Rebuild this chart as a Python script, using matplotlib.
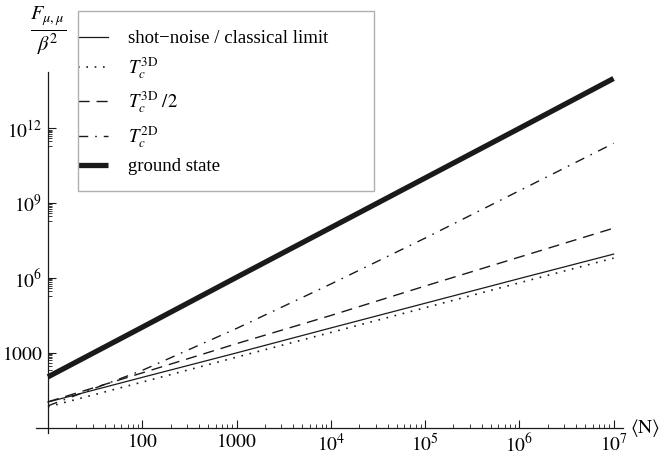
import numpy as np
import matplotlib
matplotlib.use("Agg")
import matplotlib.pyplot as plt
from matplotlib.patches import Rectangle
from matplotlib.ticker import FixedLocator, FixedFormatter, NullFormatter

plt.rcParams['font.family'] = ['Liberation Serif', 'DejaVu Serif']
plt.rcParams['mathtext.fontset'] = 'stix'

# log10 of <N> and log10 of F/beta^2 at each decade
log_n = [1, 2, 3, 4, 5, 6, 7]
log_shot = [1.03, 2.02, 3.0, 4.0, 4.99, 5.98, 6.96]
log_tc3d = [0.84, 1.83, 2.83, 3.82, 4.81, 5.81, 6.8]
log_tc3d_half = [1.04, 2.2, 3.37, 4.5, 5.68, 6.84, 8.0]
log_tc2d = [0.88, 2.3, 3.98, 5.76, 7.6, 9.5, 11.4]
log_ground = [2.04, 4.03, 6.03, 8.02, 10.01, 12.0, 14.0]

labels = ['shot\u2212noise / classical limit', r'$T_c^{\rm 3D}$',
          r'$T_c^{\rm 3D}\ /2$', r'$T_c^{\rm 2D}$', 'ground state']

x_major = [100, 1000, 1e4, 1e5, 1e6, 1e7]
x_major_labels = ['$100$', '$1000$', '$10^{4}$', '$10^{5}$', '$10^{6}$', '$10^{7}$']
y_major = [1e3, 1e6, 1e9, 1e12]
y_major_labels = ['$1000$', '$10^{6}$', '$10^{9}$', '$10^{12}$']

W, H = 659, 459
fig = plt.figure(figsize=(W / 100, H / 100), dpi=100)
ax = fig.add_axes([36 / W, 26 / H, (623 - 36) / W, (433 - 72) / H])

N = 10.0 ** np.array(log_n)
k = '#1a1a1a'
ax.plot(N, 10.0 ** np.array(log_shot), color=k, lw=0.9, label=labels[0])
ax.plot(N, 10.0 ** np.array(log_tc3d), color=k, lw=1.2, ls=(0, (1.0, 4.0)), label=labels[1])
ax.plot(N, 10.0 ** np.array(log_tc3d_half), color=k, lw=1.0, ls=(0, (8, 5)), label=labels[2])
ax.plot(N, 10.0 ** np.array(log_tc2d), color=k, lw=1.0, ls=(0, (7, 5, 1.2, 5)), label=labels[3])
ax.plot(N, 10.0 ** np.array(log_ground), color=k, lw=3.8, solid_capstyle='butt', label=labels[4])

ax.set_xscale('log')
ax.set_yscale('log')
ax.set_xlim(10 ** 0.873, 10 ** 7.1)
ax.set_ylim(10 ** -0.21, 10 ** 14.26)

# axes crossing at (10, 1)
ax.spines['left'].set_position(('data', 10))
ax.spines['bottom'].set_position(('data', 1))
ax.spines['right'].set_visible(False)
ax.spines['top'].set_visible(False)
for s in ['left', 'bottom']:
    ax.spines[s].set_linewidth(0.9)
    ax.spines[s].set_color(k)

x_minor = [m * 10 ** d for d in range(1, 7) for m in range(2, 10)]
ax.xaxis.set_major_locator(FixedLocator(x_major))
ax.xaxis.set_major_formatter(FixedFormatter(x_major_labels))
ax.xaxis.set_minor_locator(FixedLocator(x_minor))
ax.xaxis.set_minor_formatter(NullFormatter())

# small ticks only in the decade just under each labelled one
y_minor = [m * M / 10 for M in y_major for m in range(2, 10)]
ax.yaxis.set_major_locator(FixedLocator(y_major))
ax.yaxis.set_major_formatter(FixedFormatter(y_major_labels))
ax.yaxis.set_minor_locator(FixedLocator(y_minor))
ax.yaxis.set_minor_formatter(NullFormatter())

ax.tick_params(which='major', direction='in', length=6, width=0.8, color=k,
               labelsize=14, pad=4)
ax.tick_params(which='minor', direction='in', length=3, width=0.6, color=k)

fig.text(48 / W, 1 - 31 / H, r'$\frac{F_{\mu,\mu}}{\beta^2}$', fontsize=21,
         ha='center', va='center')
ax.text(1.012, 1, r'$\langle \mathrm{N} \rangle$', transform=ax.get_yaxis_transform(),
        fontsize=14, ha='left', va='center')

leg = ax.legend(loc='upper left', bbox_to_anchor=(78 / W, 1 - 30 / H),
                bbox_transform=fig.transFigure, fontsize=13.5, frameon=False,
                borderpad=0, labelspacing=0.45,
                handlelength=1.6, handletextpad=1.05, borderaxespad=0)
fig.add_artist(Rectangle((78 / W, 1 - 191 / H), (374 - 78) / W, (191 - 11) / H,
                         transform=fig.transFigure, fill=False,
                         edgecolor='#b0b0b0', lw=1.0))

fig.savefig('out.png', dpi=100)
